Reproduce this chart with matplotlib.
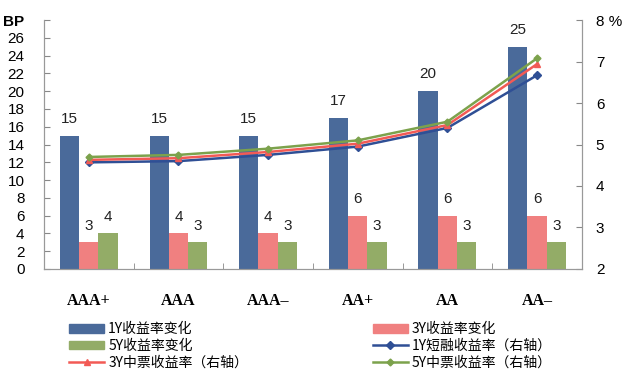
import matplotlib
matplotlib.use("Agg")
import matplotlib.pyplot as plt
import numpy as np
from matplotlib.lines import Line2D
from matplotlib.patches import Patch

categories = ["AAA+", "AAA", "AAA\u2013", "AA+", "AA", "AA\u2013"]
chg_1y = [15, 15, 15, 17, 20, 25]
chg_3y = [3, 4, 4, 6, 6, 6]
chg_5y = [4, 3, 3, 3, 3, 3]
yld_1y = [4.57, 4.60, 4.75, 4.95, 5.40, 6.67]
yld_3y = [4.63, 4.67, 4.82, 5.02, 5.47, 6.94]
yld_5y = [4.70, 4.75, 4.90, 5.10, 5.55, 7.08]

labels = ["1Y收益率变化", "3Y收益率变化", "5Y收益率变化",
          "1Y短融收益率（右轴）", "3Y中票收益率（右轴）", "5Y中票收益率（右轴）"]

c_bar1, c_bar3, c_bar5 = "#4A6A9A", "#F08080", "#93AC67"
c_ln1, c_ln3, c_ln5 = "#2F4F95", "#F25A55", "#7CA24C"

plt.rcParams["font.family"] = ["Liberation Sans", "Noto Sans CJK SC", "DejaVu Sans"]

fig = plt.figure(figsize=(6.24, 3.72), dpi=100)
ax = fig.add_axes([0.0705, 0.277, 0.862, 0.669])
ax2 = ax.twinx()

x = np.arange(len(categories))
w = 0.215
b1 = ax.bar(x - w, chg_1y, w, color=c_bar1)
b3 = ax.bar(x, chg_3y, w, color=c_bar3)
b5 = ax.bar(x + w, chg_5y, w, color=c_bar5)
for bars in (b1, b3, b5):
    for r in bars:
        ax.annotate(f"{r.get_height():g}", (r.get_x() + r.get_width() / 2, r.get_height()),
                    xytext=(0, 7), textcoords="offset points", ha="center", va="bottom",
                    fontsize=11, color="#222222")

ax2.plot(x, yld_1y, color=c_ln1, marker="D", ms=4, lw=1.8)
ax2.plot(x, yld_3y, color=c_ln3, marker="^", ms=5, lw=1.8)
ax2.plot(x, yld_5y, color=c_ln5, marker="D", ms=3.5, lw=1.8)

ax.set_xlim(-0.5, len(categories) - 0.5)
ax.set_ylim(0, 28)
ax2.set_ylim(2, 8)

ax.set_yticks(np.arange(0, 29, 2))
ax.set_yticklabels([str(v) for v in range(0, 28, 2)] + ["BP"])
ax.get_yticklabels()[-1].set_fontweight("bold")
ax2.set_yticks(np.arange(2, 9, 1))
ax2.set_yticklabels([str(v) for v in range(2, 8)] + ["8 %"])

ax.set_xticks(x)
ax.set_xticklabels(categories, fontfamily="Liberation Serif", fontweight="bold", fontsize=11.5)
ax.set_xticks(np.arange(-0.5, len(categories), 1), minor=True)
ax.tick_params(axis="x", which="major", length=0, pad=17)
ax.tick_params(axis="x", which="minor", length=4, direction="in", color="#888888")

ax.tick_params(axis="y", direction="in", length=4, color="#888888", labelsize=11, pad=14)
ax2.tick_params(axis="y", direction="in", length=4, color="#888888", labelsize=11, pad=10)

for a in (ax, ax2):
    a.spines["top"].set_visible(False)
    for s in ("left", "right", "bottom"):
        a.spines[s].set_color("#999999")

handles = [
    Patch(color=c_bar1), Patch(color=c_bar5),
    Line2D([], [], color=c_ln3, marker="^", ms=5, lw=1.8),
    Patch(color=c_bar3),
    Line2D([], [], color=c_ln1, marker="D", ms=4, lw=1.8),
    Line2D([], [], color=c_ln5, marker="D", ms=3.5, lw=1.8),
]
hl = [labels[0], labels[2], labels[4], labels[1], labels[3], labels[5]]
fig.legend(handles, hl, ncol=2, loc="upper left", bbox_to_anchor=(0.1, 0.152),
           frameon=False, handlelength=2.5, handleheight=0.6,
           labelspacing=0.18, columnspacing=9.0, borderpad=0, handletextpad=0.3,
           prop={"family": ["Noto Sans CJK SC", "DejaVu Sans"], "size": 10})

fig.savefig("out.png", dpi=100, facecolor="white")
